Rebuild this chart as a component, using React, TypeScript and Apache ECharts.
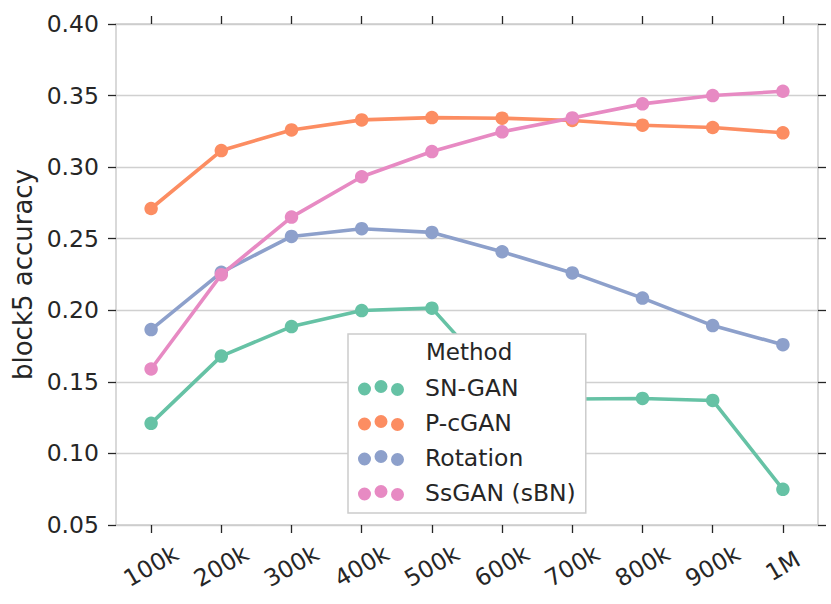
import React, { useEffect, useRef } from "react";
import * as echarts from "echarts";

const categories = ["100k", "200k", "300k", "400k", "500k", "600k", "700k", "800k", "900k", "1M"];
const snGan = [0.121, 0.168, 0.1886, 0.1998, 0.2015, 0.147, 0.138, 0.1384, 0.137, 0.0749];
const pcGan = [0.2711, 0.3116, 0.326, 0.333, 0.3346, 0.3342, 0.3326, 0.3293, 0.3277, 0.324];
const rotation = [0.1865, 0.2265, 0.2516, 0.257, 0.2544, 0.2409, 0.2261, 0.2085, 0.1893, 0.176];
const ssGan = [0.159, 0.2249, 0.2651, 0.2933, 0.3109, 0.3247, 0.3344, 0.3442, 0.35, 0.353];
const seriesNames = ["SN-GAN", "P-cGAN", "Rotation", "SsGAN (sBN)"];
const colors = ["#66c2a5", "#fc8d62", "#8da0cb", "#e78ac3"];
const yTicks = { min: 0.05, max: 0.4, interval: 0.05 };

const ICON =
  "path://M0,9a6.5,6.5 0 1,0 13,0a6.5,6.5 0 1,0 -13,0Z" +
  "M16.5,6.5a6.5,6.5 0 1,0 13,0a6.5,6.5 0 1,0 -13,0Z" +
  "M33,9.5a6.5,6.5 0 1,0 13,0a6.5,6.5 0 1,0 -13,0Z";

const FONT = "DejaVu Sans";
const TXT = "#262626";

export default function App() {
  const ref = useRef<HTMLDivElement>(null);
  useEffect(() => {
    document.body.style.margin = "0";
    const chart = echarts.init(ref.current!, null, { renderer: "svg" });
    const data = [snGan, pcGan, rotation, ssGan];
    const axisLine = { show: true, lineStyle: { color: "#cccccc", width: 1.5 } };
    const tick = { show: true, length: 8, lineStyle: { color: TXT, width: 1.3 } };
    chart.setOption({
      animation: false,
      backgroundColor: "#ffffff",
      textStyle: { fontFamily: FONT },
      title: {
        text: "Method",
        left: 426,
        top: 340,
        padding: 0,
        z: 10,
        textStyle: { fontFamily: FONT, fontSize: 23, fontWeight: "normal", color: TXT },
      },
      grid: { left: 116, right: 13, top: 24, bottom: 79, containLabel: false },
      legend: {
        orient: "vertical",
        left: 348,
        top: 334,
        padding: [42, 10, 8, 10],
        itemGap: 11,
        itemWidth: 46,
        itemHeight: 16,
        icon: ICON,
        selectedMode: false,
        borderColor: "#cccccc",
        borderWidth: 1.5,
        backgroundColor: "#ffffff",
        z: 8,
        data: seriesNames,
        textStyle: {
          fontFamily: FONT,
          fontSize: 23.5,
          color: TXT,
          lineHeight: 24,
          padding: [0, 0, 0, 16],
        },
      },
      xAxis: [
        {
          type: "category",
          data: categories,
          position: "bottom",
          boundaryGap: true,
          axisLine,
          axisTick: { ...tick, alignWithLabel: true },
          axisLabel: {
            rotate: 30,
            align: "center",
            verticalAlign: "middle",
            margin: 41,
            fontFamily: FONT,
            fontSize: 23.5,
            color: TXT,
            interval: 0,
          },
          splitLine: { show: false },
        },
        {
          type: "category",
          data: categories,
          position: "top",
          boundaryGap: true,
          axisLine,
          axisTick: { ...tick, alignWithLabel: true },
          axisLabel: { show: false },
          splitLine: { show: false },
        },
      ],
      yAxis: [
        {
          type: "value",
          min: yTicks.min,
          max: yTicks.max,
          interval: yTicks.interval,
          position: "left",
          name: "block5 accuracy",
          nameLocation: "middle",
          nameGap: 78,
          nameTextStyle: { fontFamily: FONT, fontSize: 26, color: TXT },
          axisLine,
          axisTick: tick,
          axisLabel: {
            margin: 17,
            fontFamily: FONT,
            fontSize: 23.5,
            color: TXT,
            formatter: (v: number) => v.toFixed(2),
          },
          splitLine: { show: true, lineStyle: { color: "#d0d0d0", width: 1.3 } },
        },
        {
          type: "value",
          min: yTicks.min,
          max: yTicks.max,
          interval: yTicks.interval,
          position: "right",
          axisLine,
          axisTick: tick,
          axisLabel: { show: false },
          splitLine: { show: false },
        },
      ],
      series: seriesNames.map((name, i) => ({
        name,
        type: "line",
        data: data[i],
        xAxisIndex: 0,
        yAxisIndex: 0,
        symbol: "circle",
        symbolSize: 13.5,
        showAllSymbol: true,
        color: colors[i],
        lineStyle: { width: 3.6, color: colors[i] },
        itemStyle: { color: colors[i] },
        z: 2 + i * 0.01,
      })),
    });
    return () => chart.dispose();
  }, []);
  return <div ref={ref} style={{ width: 831, height: 604 }} />;
}
